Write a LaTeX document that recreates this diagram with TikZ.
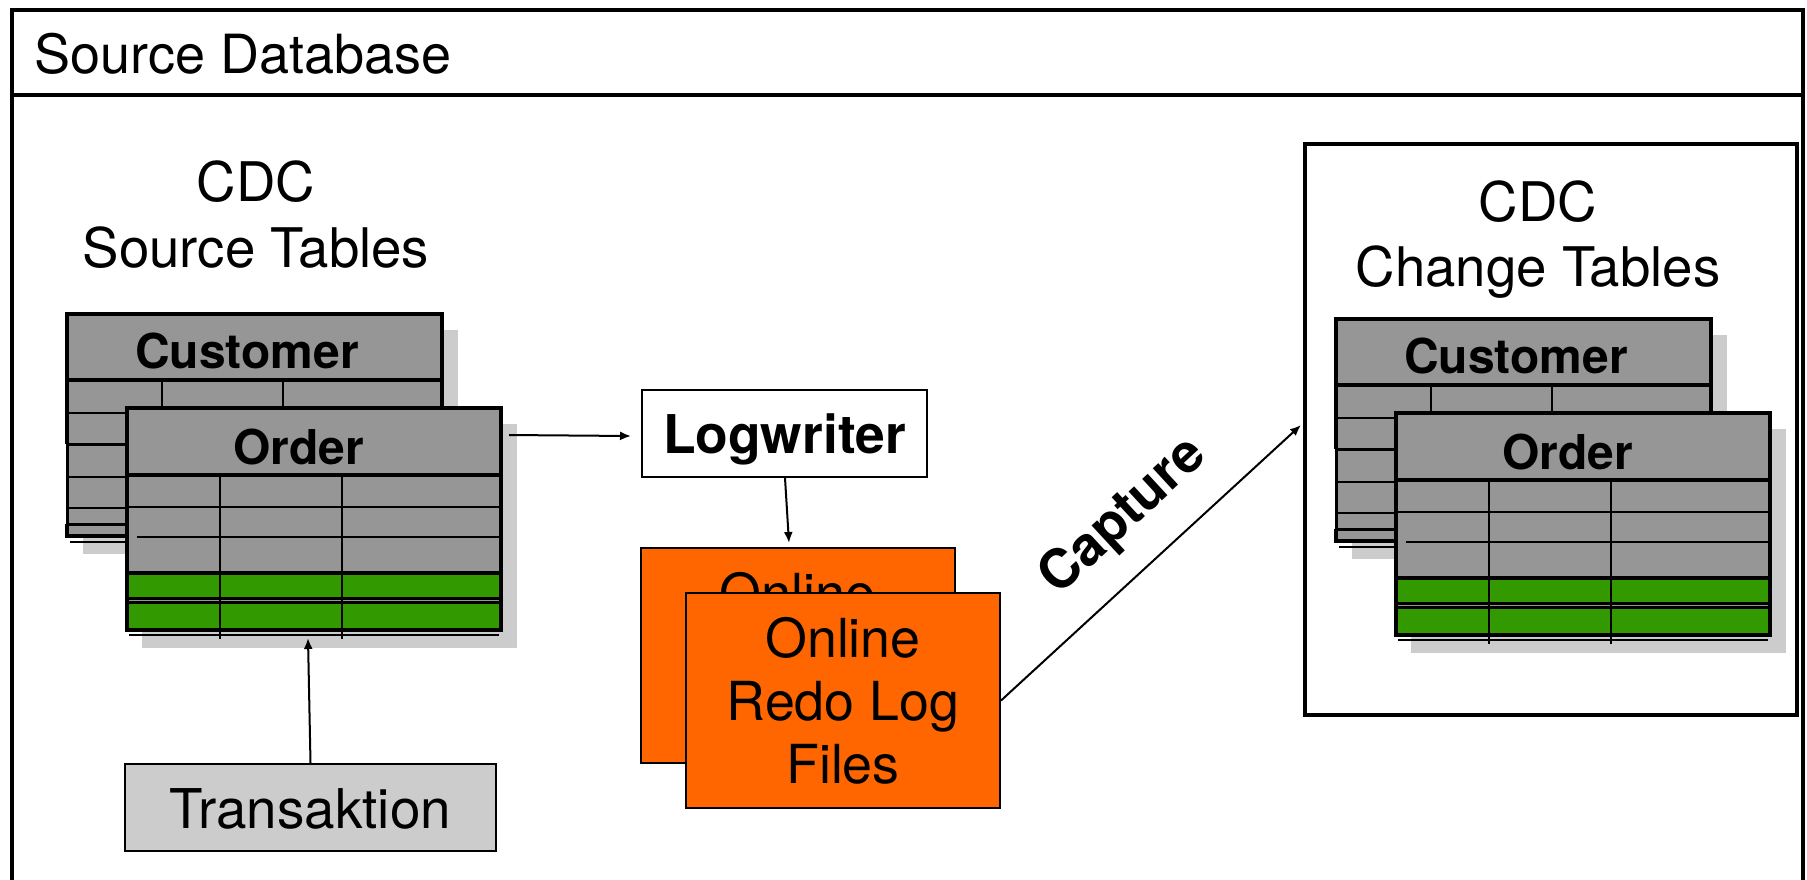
\documentclass[tikz,border=0pt]{standalone}
\usepackage{fontspec}
\setmainfont{TeX Gyre Heros}
\usetikzlibrary{arrows.meta}
\definecolor{tblgray}{RGB}{150,150,150}
\definecolor{shadowc}{RGB}{204,204,204}
\definecolor{tblgreen}{RGB}{51,153,0}
\definecolor{onlorange}{RGB}{255,102,0}
\tikzset{
  thinln/.style={line width=1pt},
  medln/.style={line width=1.5pt},
  thickln/.style={line width=2.4pt},
  tblttl/.style={font=\fontsize{24}{28}\selectfont\bfseries, inner sep=0pt, anchor=base},
  lbl/.style={font=\fontsize{27.3}{32}\selectfont, inner sep=0pt, anchor=base},
  arr/.style={-{Latex[length=5.5pt,width=4.5pt]}, line width=1pt},
  onlbox/.style={draw, line width=1pt, fill=onlorange, minimum width=157pt, minimum height=107.5pt,
    inner sep=0pt, align=center, font=\fontsize{26.9}{31.5}\selectfont},
  plainbox/.style={draw, line width=1pt, inner sep=0pt, text height=19.5pt, text depth=0pt},
}
\newcommand{\cdcpair}[3]{%
\begin{scope}[shift={(#1,#2)}]
  % Customer table
  \fill[shadowc] (16,16) rectangle (391,240);
  \fill[tblgray] (0,0) rectangle (375,222);
  \draw[thinln] (95,66) -- (95,130) (216,66) -- (216,130);
  \draw[thinln] (0,99) -- (375,99);
  \draw[thinln] (0,163) -- (375,163) (0,194) -- (375,194);
  \draw[medln] (0,130) -- (375,130) (0,210) -- (375,210);
  \draw[medln] (0,130) -- (0,210);
  \draw[thickln] (0,130) -- (0,0) -- (375,0) -- (375,130);
  \draw[thickln] (0,66) -- (375,66);
  \draw[thickln] (0,210) -- (0,222) -- (375,222);
  \draw[thinln] (3,228) -- (375,228);
  \node[tblttl] (#3cu) at (180,54) {Customer};
  % Order table
  \begin{scope}[shift={(60,94)}]
    \fill[shadowc] (15,16) rectangle (390,240);
    \fill[tblgray] (0,0) rectangle (374,222);
    \fill[tblgreen] (0,165) rectangle (374,222);
    \draw[thinln] (0,99) -- (374,99) (10,129) -- (374,129);
    \draw[line width=3.5pt] (0,192.5) -- (374,192.5);
    \draw[line width=0.9pt, tblgray] (0,192.5) -- (374,192.5);
    \draw[thinln] (93,67) -- (93,231) (215,67) -- (215,231);
    \draw[line width=2pt] (0,165) -- (374,165);
    \draw[thickln] (0,67) -- (374,67);
    \draw[thickln] (0,0) rectangle (374,222);
    \draw[thinln] (2,227) -- (372,227);
    \node[tblttl] (#3or) at (171.5,56) {Order};
  \end{scope}
\end{scope}}
\begin{document}
\begin{tikzpicture}[x=0.5pt,y=-0.5pt]
\useasboundingbox (0,0) rectangle (1807,879);
\clip (0,0) rectangle (1807,879);
% outer frame
\draw[line width=1.6pt] (12,10) rectangle (1803,930);
\draw[line width=1.6pt] (12,95) -- (1803,95);
\node[font=\fontsize{27}{32}\selectfont, inner sep=0pt, anchor=base west] (srcdb) at (34,73) {Source Database};

% left source tables
\node[lbl] (srcA) at (256,201) {CDC};
\node[lbl] (srcB) at (256,267) {Source Tables};
\cdcpair{67}{314}{L}

% right change tables
\node[draw, line width=1.6pt, minimum width=246pt, minimum height=285.5pt, inner sep=0pt] (chg) at (1551,429.5) {};
\node[lbl] (chgA) at (1538,221) {CDC};
\node[lbl] (chgB) at (1538,286) {Change Tables};
\cdcpair{1336}{319}{R}

% logwriter
\node[plainbox, fill=white, minimum width=142.5pt, minimum height=43.5pt,
  font=\fontsize{26.7}{31}\selectfont\bfseries] (logw) at (784.5,433.5) {Logwriter};

% online redo log files
\node[onlbox] (onlB) at (797.5,655.5) {Online\\Redo Log\\Files};
\node[onlbox] (onlF) at (843,700.5) {Online\\Redo Log\\Files};

% transaktion
\node[plainbox, fill=shadowc, minimum width=185.5pt, minimum height=43.5pt, text height=20.5pt,
  font=\fontsize{27.4}{32}\selectfont] (trans) at (310.5,807.5) {Transaktion};

% connectors
\coordinate (ordOut) at (509,435);
\coordinate (logIn) at (631,436);
\coordinate (ordIn) at (308,638);
\coordinate (capEnd) at (1301,425);
\draw[arr] (ordOut) -- (logIn);
\draw[arr] ([xshift=0.25pt]logw.south) -- ([xshift=-4.25pt,yshift=2pt]onlB.north);
\draw[arr] (trans.north) -- (ordIn);
\draw[arr] (onlF.east) -- (capEnd);
\node[font=\fontsize{27}{31}\selectfont\bfseries, rotate=42.7, inner sep=0pt] (capl) at (1124,517) {Capture};
\end{tikzpicture}
\end{document}
